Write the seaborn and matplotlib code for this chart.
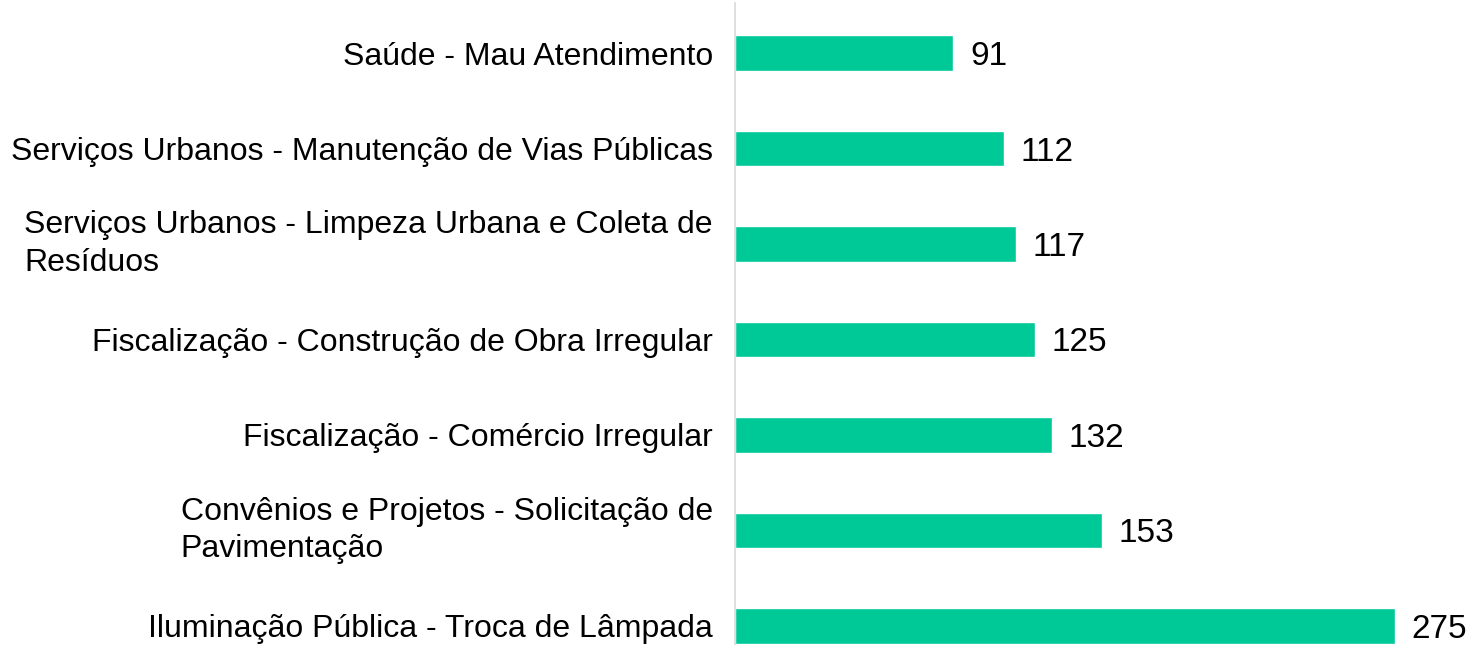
import matplotlib
matplotlib.use("Agg")
import matplotlib.pyplot as plt
import seaborn as sns
import pandas as pd

categories = [
    "Saúde - Mau Atendimento",
    "Serviços Urbanos - Manutenção de Vias Públicas",
    "Serviços Urbanos - Limpeza Urbana e Coleta de\nResíduos",
    "Fiscalização - Construção de Obra Irregular",
    "Fiscalização - Comércio Irregular",
    "Convênios e Projetos - Solicitação de\nPavimentação",
    "Iluminação Pública - Troca de Lâmpada",
]
values = [91, 112, 117, 125, 132, 153, 275]

df = pd.DataFrame({"categoria": categories, "valor": values})

sns.set_theme(style="white")
plt.rcParams["font.family"] = ["Liberation Sans", "DejaVu Sans"]

fig = plt.figure(figsize=(14.7, 6.45), dpi=100)
ax = fig.add_axes([0.5, 0.0, 0.5, 1 - 3 / 645])

sns.barplot(data=df, x="valor", y="categoria", orient="h", color="#00C998",
            width=0.37, ax=ax, saturation=1)

ax.set_xlim(0, 735 / 2.4)
ax.set_ylim(6.2, -0.524)
ax.set_xlabel("")
ax.set_ylabel("")
ax.set_xticks([])
for s in ["top", "right", "bottom"]:
    ax.spines[s].set_visible(False)
ax.spines["left"].set_color("#d9d9d9")
ax.spines["left"].set_linewidth(1.2)

ax.tick_params(axis="y", length=0, pad=16, labelsize=23, labelcolor="#000000")
for lbl in ax.get_yticklabels():
    lbl.set_multialignment("left")
    lbl.set_linespacing(1.32)
    if "\n" in lbl.get_text():
        lbl.set_verticalalignment("center")
    else:
        lbl.set_verticalalignment("center_baseline")

for c in ax.containers:
    texts = ax.bar_label(c, padding=12, fontsize=24, color="#000000")
    for t in texts:
        t.set_verticalalignment("center_baseline")

fig.savefig("out.png", dpi=100)
